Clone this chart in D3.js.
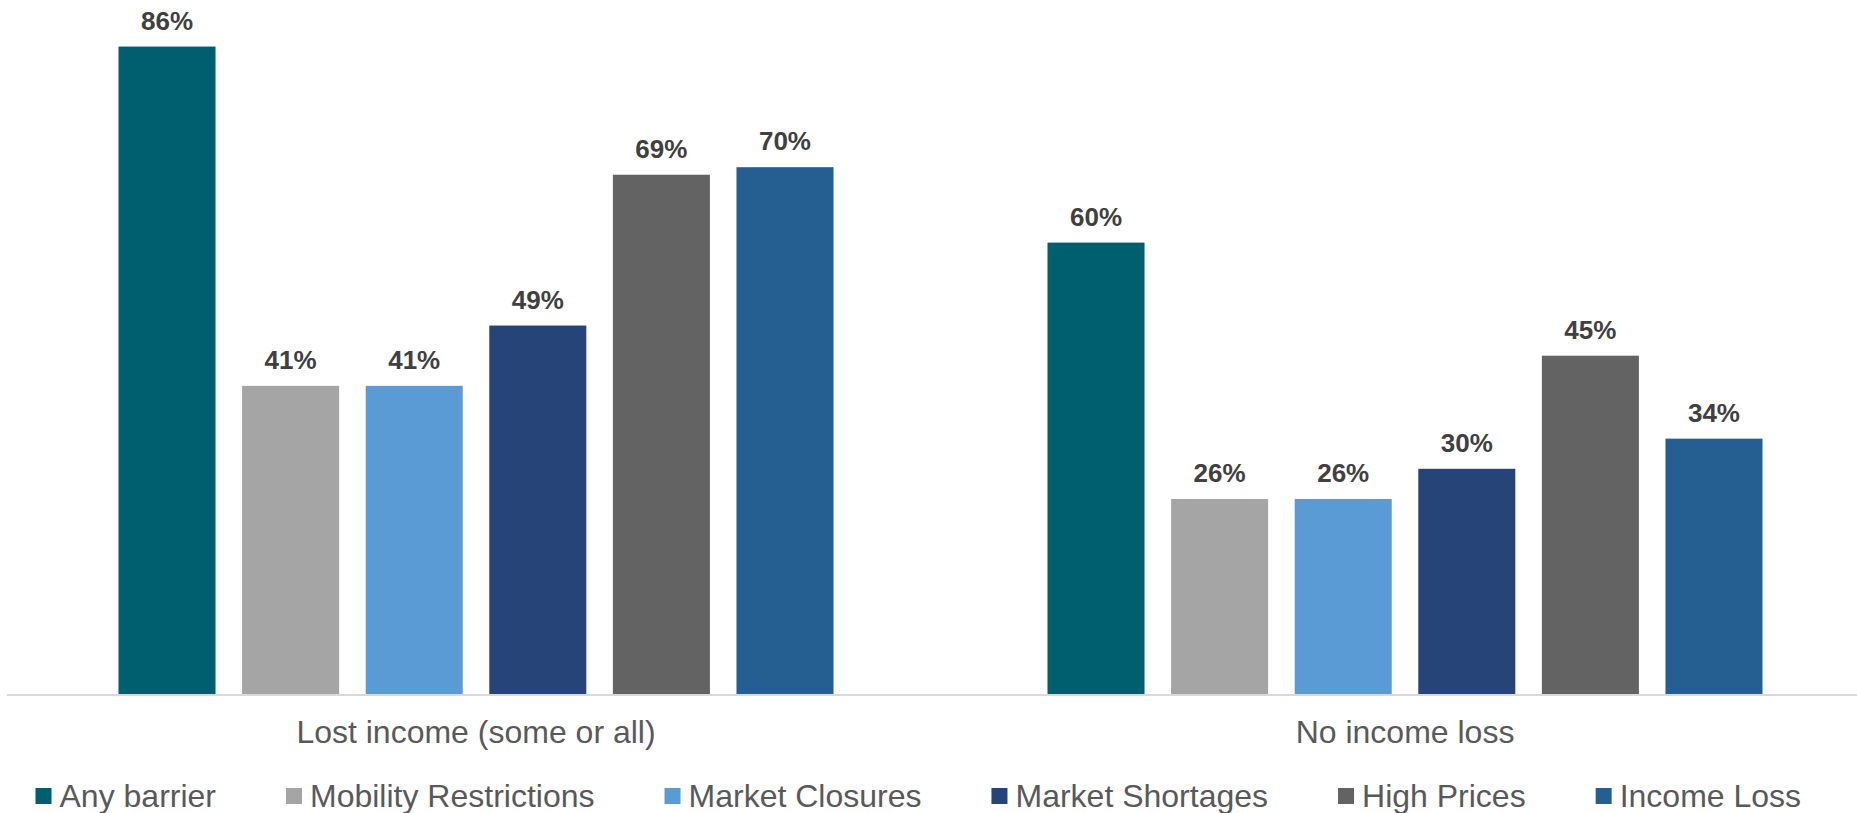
<!DOCTYPE html>
<html>
<head>
<meta charset="utf-8">
<script src="https://cdn.jsdelivr.net/npm/d3@7"></script>
<style>
  html, body { margin: 0; padding: 0; background: #fff; }
  svg { display: block; }
  text { font-family: "Liberation Sans", Arial, sans-serif; }
</style>
</head>
<body>
<svg id="chart" width="1857" height="813"></svg>
<script>
// Share of households reporting each barrier, by income status
const groups = ["Lost income (some or all)", "No income loss"];
const series = ["Any barrier", "Mobility Restrictions", "Market Closures", "Market Shortages", "High Prices", "Income Loss"];
const lostIncome = [86, 41, 41, 49, 69, 70];
const noIncomeLoss = [60, 26, 26, 30, 45, 34];
const colors = ["#005F6E", "#A5A5A5", "#5B9BD5", "#264478", "#636363", "#255E91"];

const values = [lostIncome, noIncomeLoss];
const rows = groups.flatMap((g, gi) =>
  series.map((s, si) => ({ group: g, series: s, value: values[gi][si], color: colors[si] }))
);

const W = 1857, H = 813;
const svg = d3.select("#chart");

const x0 = d3.scaleBand().domain(groups).range([11.5, 1869.5]).paddingInner(0).paddingOuter(0);
const x1 = d3.scaleBand().domain(series).range([107, 929 - 107]).paddingInner(0.215).paddingOuter(0);
const y = d3.scaleLinear().domain([0, 90]).range([695, 695 - 90 * 7.54]);

// bars
const g = svg.append("g");
g.selectAll("rect")
  .data(rows)
  .join("rect")
  .attr("x", d => x0(d.group) + x1(d.series))
  .attr("y", d => y(d.value))
  .attr("width", x1.bandwidth())
  .attr("height", d => y(0) - y(d.value))
  .attr("fill", d => d.color);

// value labels
g.selectAll("text.val")
  .data(rows)
  .join("text")
  .attr("class", "val")
  .attr("x", d => x0(d.group) + x1(d.series) + x1.bandwidth() / 2)
  .attr("y", d => y(d.value) - 17)
  .attr("text-anchor", "middle")
  .attr("font-size", 26)
  .attr("font-weight", "bold")
  .attr("fill", "#404040")
  .text(d => d3.format(".0f")(d.value) + "%");

// category axis
const axis = svg.append("g").attr("transform", `translate(0,${y(0)})`);
axis.append("line")
  .attr("x1", 7).attr("x2", W)
  .attr("y1", 0).attr("y2", 0)
  .attr("stroke", "#D9D9D9").attr("stroke-width", 2);
axis.selectAll("text")
  .data(groups)
  .join("text")
  .attr("x", d => x0(d) + x0.bandwidth() / 2)
  .attr("y", 48)
  .attr("text-anchor", "middle")
  .attr("font-size", 32)
  .attr("fill", "#595959")
  .text(d => d);

// legend
const legend = svg.append("g").attr("transform", "translate(35.5,796)");
let cx = 0;
series.forEach((s, i) => {
  const item = legend.append("g").attr("transform", `translate(${cx},0)`);
  item.append("rect")
    .attr("x", 0).attr("y", -8)
    .attr("width", 16).attr("height", 16)
    .attr("fill", colors[i]);
  const t = item.append("text")
    .attr("x", 24).attr("y", 11)
    .attr("font-size", 32)
    .attr("fill", "#595959")
    .text(s);
  cx += 24 + t.node().getComputedTextLength() + 70;
});
</script>
</body>
</html>
